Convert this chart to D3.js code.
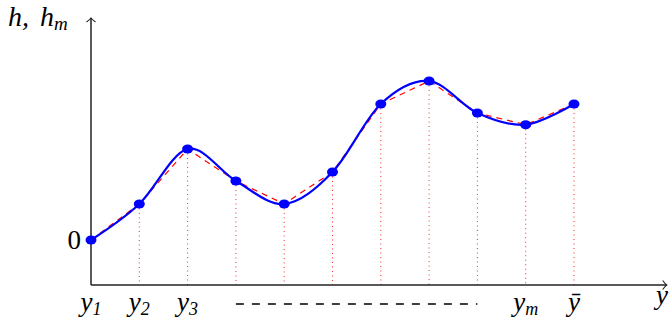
<!DOCTYPE html>
<html><head><meta charset="utf-8">
<script src="https://cdn.jsdelivr.net/npm/d3@7"></script>
<style>body{margin:0;background:#fff}svg{display:block}</style>
</head><body>
<svg id="c" width="672" height="332"></svg>
<script>
const xs = [0,1,2,3,4,5,6,7,8,9,10];
const hs = [0,0.8,2.02,1.31,0.8,1.51,3.02,3.53,2.82,2.56,3.02];
const xLabels = [{i:0,t:"y",s:"1"},{i:1,t:"y",s:"2"},{i:2,t:"y",s:"3"},{i:9,t:"y",s:"m"},{i:10,t:"ȳ",s:""}];
const yLabels = [{v:0,t:"0"}];

const svg = d3.select("#c");
const x = d3.scaleLinear().domain([0,10]).range([91,574]);
const y = d3.scaleLinear().domain([-1,4.93]).range([285,18]);
const pts = xs.map((d,i)=>[d,hs[i]]);

// dotted verticals
svg.append("g").selectAll("line").data(pts.slice(1)).join("line")
  .attr("x1",d=>x(d[0])).attr("x2",d=>x(d[0]))
  .attr("y1",d=>y(d[1])).attr("y2",y(-1))
  .attr("stroke","#ff0000").attr("stroke-width",1).attr("stroke-dasharray","1,3.5").attr("opacity",0.85);

// axes
const ax = "#222";
svg.append("line").attr("x1",x(0)).attr("x2",x(11.92)).attr("y1",y(-1)).attr("y2",y(-1)).attr("stroke",ax).attr("stroke-width",1.5);
svg.append("line").attr("x1",x(0)).attr("x2",x(0)).attr("y1",y(-1)).attr("y2",y(4.93)).attr("stroke",ax).attr("stroke-width",1.5);
// arrows
const ex = x(11.92), ey = y(-1);
svg.append("path").attr("d",`M${ex-4},${ey-4.5} Q${ex-1.5},${ey-1} ${ex},${ey} Q${ex-1.5},${ey+1} ${ex-4},${ey+4.5}`).attr("fill","none").attr("stroke",ax).attr("stroke-width",1.1);
const tx = x(0), ty = y(4.93);
svg.append("path").attr("d",`M${tx-4.5},${ty+4} Q${tx-1},${ty+1.5} ${tx},${ty} Q${tx+1},${ty+1.5} ${tx+4.5},${ty+4}`).attr("fill","none").attr("stroke",ax).attr("stroke-width",1.1);

// red dashed (linear interpolation)
svg.append("path").datum(pts)
  .attr("d",d3.line().x(d=>x(d[0])).y(d=>y(d[1])).curve(d3.curveLinear))
  .attr("fill","none").attr("stroke","#ff0000").attr("stroke-width",1.2).attr("stroke-dasharray","6,5");

// blue smooth
svg.append("path").datum(pts)
  .attr("d",d3.line().x(d=>x(d[0])).y(d=>y(d[1])).curve(d3.curveCardinal.tension(0)))
  .attr("fill","none").attr("stroke","#0000ff").attr("stroke-width",2.2);

svg.append("g").selectAll("ellipse").data(pts).join("ellipse")
  .attr("cx",d=>x(d[0])).attr("cy",d=>y(d[1])).attr("rx",5.5).attr("ry",4.5).attr("fill","#0000ff");

// dashed black under axis
svg.append("line").attr("x1",x(3)).attr("x2",x(8)).attr("y1",304).attr("y2",304)
  .attr("stroke","#000").attr("stroke-width",1.3).attr("stroke-dasharray","8,8");

const font = "'Liberation Serif', 'Times New Roman', Times, serif";
// x labels
const xl = svg.append("g").attr("font-family",font).attr("font-style","italic");
xLabels.forEach(l=>{
  const t = xl.append("text").attr("x",x(l.i)).attr("y",311).attr("text-anchor","middle").attr("font-size",27);
  t.append("tspan").text(l.t);
  if(l.s) t.append("tspan").attr("font-size",18).attr("dy",4).text(l.s);
});
xl.append("text").attr("x",662).attr("y",304).attr("text-anchor","middle").attr("font-size",27).text("y");
// y labels
yLabels.forEach(l=>{
  svg.append("text").attr("x",81).attr("y",y(l.v)+9).attr("text-anchor","end").attr("font-family",font).attr("font-size",27).text(l.t);
});
const yt = svg.append("text").attr("y",26).attr("font-family",font).attr("font-style","italic").attr("font-size",28);
yt.append("tspan").attr("x",8).text("h,");
yt.append("tspan").attr("x",40).text("h");
yt.append("tspan").attr("font-size",19).attr("dy",4).text("m");
</script>
</body></html>
